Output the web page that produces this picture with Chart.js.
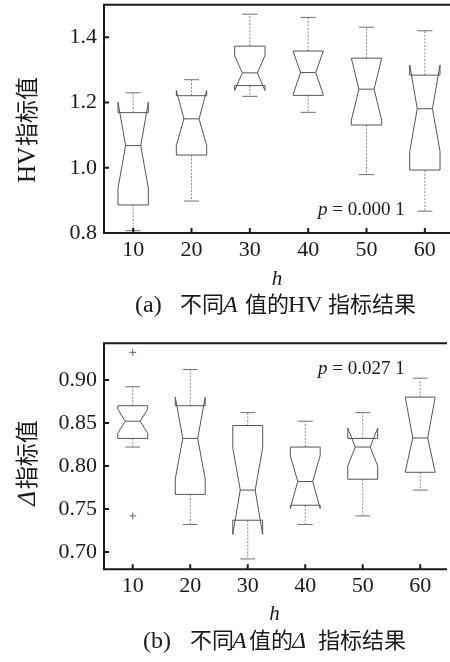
<!DOCTYPE html>
<html><head><meta charset="utf-8">
<script src="https://cdn.jsdelivr.net/npm/chart.js@4.4.1/dist/chart.umd.min.js"></script>
<style>
html,body{margin:0;padding:0;background:#fff;overflow:hidden;width:450px;height:662px}
.wrap{position:absolute;left:0;width:450px}
#wa{top:0;height:330px}
#wb{top:330px;height:332px}
canvas{display:block}
</style></head><body>
<div class="wrap" id="wa"><canvas id="ca" width="450" height="330" style="width:450px;height:330px"></canvas></div>
<div class="wrap" id="wb"><canvas id="cb" width="450" height="332" style="width:450px;height:332px"></canvas></div>
<script>
// ---------- data ----------
const categories = [10, 20, 30, 40, 50, 60];

// (a) HV indicator
const hvTicks        = [0.8, 1.0, 1.2, 1.4];
const hvWhiskerHigh  = [1.230, 1.270, 1.471, 1.461, 1.431, 1.420];
const hvQ3           = [1.169, 1.221, 1.373, 1.358, 1.336, 1.284];
const hvNotchHigh    = [1.201, 1.237, 1.344, 1.358, 1.336, 1.315];
const hvMedian       = [1.068, 1.150, 1.291, 1.292, 1.241, 1.181];
const hvNotchLow     = [0.937, 1.068, 1.237, 1.224, 1.146, 1.050];
const hvQ1           = [0.886, 1.039, 1.252, 1.222, 1.131, 0.993];
const hvWhiskerLow   = [0.807, 0.898, 1.219, 1.170, 0.979, 0.867];

// (b) Delta indicator
const deltaTicks       = [0.70, 0.75, 0.80, 0.85, 0.90];
const deltaWhiskerHigh = [0.892, 0.912, 0.862, 0.852, 0.862, 0.902];
const deltaQ3          = [0.870, 0.870, 0.847, 0.822, 0.832, 0.880];
const deltaNotchHigh   = [0.866, 0.880, 0.821, 0.812, 0.844, 0.880];
const deltaMedian      = [0.852, 0.832, 0.772, 0.782, 0.822, 0.8325];
const deltaNotchLow    = [0.838, 0.785, 0.7205, 0.7506, 0.800, 0.793];
const deltaQ1          = [0.832, 0.767, 0.737, 0.7544, 0.7846, 0.7927];
const deltaWhiskerLow  = [0.822, 0.732, 0.692, 0.732, 0.742, 0.772];
const deltaOutlierCats   = [10, 10];
const deltaOutlierValues = [0.932, 0.742];

// ---------- styling ----------
const SERIF = '"Liberation Serif", "Times New Roman", serif';
const CJK = '"Noto Sans CJK SC", "Noto Sans CJK JP", sans-serif';
const BOX_HALF = 2.6;   // half box width in x units

function boxPlugin(s) {
  return {
    id: 'notchedBoxes',
    afterDatasetsDraw(chart) {
      const {ctx, scales: {x, y}} = chart;
      const Y = v => y.getPixelForValue(v);
      ctx.save();
      ctx.lineWidth = 1;
      s.cats.forEach((c, i) => {
        const xc = x.getPixelForValue(c);
        const xl = x.getPixelForValue(c - BOX_HALF);
        const xr = x.getPixelForValue(c + BOX_HALF);
        const hw = (xr - xl) / 2, nw = hw / 2, cw = hw / 2;
        const q1 = Y(s.q1[i]), q3 = Y(s.q3[i]), md = Y(s.median[i]);
        const nl = Y(s.notchLow[i]), nh = Y(s.notchHigh[i]);
        const wl = Y(s.whiskerLow[i]), wh = Y(s.whiskerHigh[i]);
        // whiskers (dotted)
        ctx.strokeStyle = '#8c8c8c';
        ctx.setLineDash([2, 1.5]);
        ctx.beginPath();
        ctx.moveTo(xc, q3); ctx.lineTo(xc, wh);
        ctx.moveTo(xc, q1); ctx.lineTo(xc, wl);
        ctx.stroke();
        ctx.setLineDash([]);
        // caps
        ctx.strokeStyle = '#707070';
        ctx.beginPath();
        ctx.moveTo(xc - cw, wh); ctx.lineTo(xc + cw, wh);
        ctx.moveTo(xc - cw, wl); ctx.lineTo(xc + cw, wl);
        ctx.stroke();
        // notched box
        ctx.strokeStyle = '#555';
        ctx.beginPath();
        ctx.moveTo(xl, q1); ctx.lineTo(xl, nl); ctx.lineTo(xl + nw, md);
        ctx.lineTo(xl, nh); ctx.lineTo(xl, q3); ctx.lineTo(xr, q3);
        ctx.lineTo(xr, nh); ctx.lineTo(xr - nw, md); ctx.lineTo(xr, nl);
        ctx.lineTo(xr, q1); ctx.closePath();
        ctx.stroke();
        // median
        ctx.beginPath();
        ctx.moveTo(xl + nw, md); ctx.lineTo(xr - nw, md);
        ctx.stroke();
      });
      ctx.restore();
    }
  };
}

const framePlugin = {
  id: 'frame',
  afterDraw(chart) {
    const {ctx, chartArea: {left, top, right, bottom}, scales: {x, y}} = chart;
    ctx.save();
    ctx.strokeStyle = '#1a1a1a';
    ctx.lineWidth = 2;
    ctx.beginPath();
    ctx.moveTo(right + 2, top); ctx.lineTo(left, top);
    ctx.lineTo(left, bottom); ctx.lineTo(right + 2, bottom);
    x.ticks.forEach(t => { const p = x.getPixelForValue(t.value); ctx.moveTo(p, bottom); ctx.lineTo(p, bottom - 5); });
    y.ticks.forEach(t => { const p = y.getPixelForValue(t.value); ctx.moveTo(left, p); ctx.lineTo(left + 5, p); });
    ctx.stroke();
    ctx.restore();
  }
};

function textPlugin(t) {
  return {
    id: 'texts',
    afterDraw(chart) {
      const ctx = chart.ctx;
      ctx.save();
      ctx.fillStyle = '#1a1a1a';
      ctx.textBaseline = 'alphabetic';
      ctx.textAlign = 'left';
      // y title (rotated)
      ctx.save();
      ctx.translate(t.yTitleX, t.yTitleY);
      ctx.rotate(-Math.PI / 2);
      let total = 0;
      t.yTitle.forEach(s => { ctx.font = s.f; total += ctx.measureText(s.t).width + (s.g || 0); });
      let cx = -total / 2;
      t.yTitle.forEach(s => { ctx.font = s.f; ctx.fillText(s.t, cx, 0); cx += ctx.measureText(s.t).width + (s.g || 0); });
      ctx.restore();
      // x title
      ctx.font = 'italic 21px ' + SERIF;
      ctx.textAlign = 'center';
      ctx.fillText('h', chart.chartArea.left + (chart.chartArea.right - chart.chartArea.left) / 2, t.xTitleY);
      ctx.textAlign = 'left';
      // caption
      t.caption.forEach(s => { ctx.font = s.f; ctx.fillText(s.t, s.x, t.captionY); });
      // p-value
      let px = t.pX;
      t.pText.forEach(s => { ctx.font = s.f; ctx.fillText(s.t, px, t.pY); px += ctx.measureText(s.t).width; });
      ctx.restore();
    }
  };
}

function makeChart(id, cfg) {
  return new Chart(document.getElementById(id), {
    type: 'scatter',
    data: {
      datasets: [{
        data: cfg.outliers,
        pointStyle: 'cross',
        pointRadius: 3.5,
        borderColor: '#666',
        backgroundColor: '#666',
        borderWidth: 1,
        showLine: false
      }]
    },
    options: {
      responsive: false,
      animation: false,
      devicePixelRatio: 1,
      layout: {padding: {top: cfg.padTop, left: 0, right: 0, bottom: 0}},
      plugins: {legend: {display: false}, tooltip: {enabled: false}},
      scales: {
        x: {
          type: 'linear', min: 5, max: 64.31,
          grid: {display: false, drawTicks: false},
          border: {display: false},
          afterBuildTicks: s => { s.ticks = categories.map(v => ({value: v})); },
          afterFit: s => { s.height = cfg.xHeight; s.paddingLeft = 0; s.paddingRight = 0; },
          ticks: {font: {family: SERIF, size: 22}, color: '#1a1a1a', padding: 4,
                  maxRotation: 0, autoSkip: false, callback: v => String(v)}
        },
        y: {
          type: 'linear', min: cfg.yMin, max: cfg.yMax,
          grid: {display: false, drawTicks: false},
          border: {display: false},
          afterBuildTicks: s => { s.ticks = cfg.yTicks.map(v => ({value: v})); },
          afterFit: s => { s.width = 104; s.paddingTop = 0; s.paddingBottom = 0; },
          ticks: {font: {family: SERIF, size: 22}, color: '#1a1a1a', padding: 7,
                  autoSkip: false, callback: v => v.toFixed(cfg.dec)}
        }
      }
    },
    plugins: [boxPlugin(cfg.stats), framePlugin, textPlugin(cfg.text)]
  });
}

makeChart('ca', {
  outliers: [],
  padTop: 4.7, xHeight: 97, yMin: 0.8, yMax: 1.5, yTicks: hvTicks, dec: 1,
  stats: {cats: categories, whiskerHigh: hvWhiskerHigh, q3: hvQ3, notchHigh: hvNotchHigh,
          median: hvMedian, notchLow: hvNotchLow, q1: hvQ1, whiskerLow: hvWhiskerLow},
  text: {
    yTitleX: 35, yTitleY: 130,
    yTitle: [{t: 'HV', f: '25px ' + SERIF, g: 1}, {t: '指标值', f: '23px ' + CJK}],
    xTitleY: 285,
    captionY: 312,
    caption: [
      {t: '(a)', x: 135, f: '24px ' + SERIF},
      {t: '不同', x: 180, f: '22px ' + CJK},
      {t: 'A', x: 223, f: 'italic 24px ' + SERIF},
      {t: '值的', x: 245, f: '22px ' + CJK},
      {t: 'HV', x: 288, f: '24px ' + SERIF},
      {t: '指标结果', x: 328, f: '22px ' + CJK}
    ],
    pX: 318, pY: 215,
    pText: [{t: 'p', f: 'italic 19px ' + SERIF}, {t: ' = 0.000 1', f: '19px ' + SERIF}]
  }
});

makeChart('cb', {
  outliers: deltaOutlierCats.map((c, i) => ({x: c, y: deltaOutlierValues[i]})),
  padTop: 13.3, xHeight: 92.7, yMin: 0.68, yMax: 0.9425, yTicks: deltaTicks, dec: 2,
  stats: {cats: categories, whiskerHigh: deltaWhiskerHigh, q3: deltaQ3, notchHigh: deltaNotchHigh,
          median: deltaMedian, notchLow: deltaNotchLow, q1: deltaQ1, whiskerLow: deltaWhiskerLow},
  text: {
    yTitleX: 35, yTitleY: 133,
    yTitle: [{t: 'Δ', f: 'italic 25px ' + SERIF, g: 2}, {t: '指标值', f: '23px ' + CJK}],
    xTitleY: 290,
    captionY: 318,
    caption: [
      {t: '(b)', x: 143, f: '24px ' + SERIF},
      {t: '不同', x: 190, f: '22px ' + CJK},
      {t: 'A', x: 232, f: 'italic 24px ' + SERIF},
      {t: '值的', x: 249, f: '22px ' + CJK},
      {t: 'Δ', x: 292, f: 'italic 24px ' + SERIF},
      {t: '指标结果', x: 318, f: '22px ' + CJK}
    ],
    pX: 318, pY: 44.3,
    pText: [{t: 'p', f: 'italic 19px ' + SERIF}, {t: ' = 0.027 1', f: '19px ' + SERIF}]
  }
});
</script>
</body></html>
